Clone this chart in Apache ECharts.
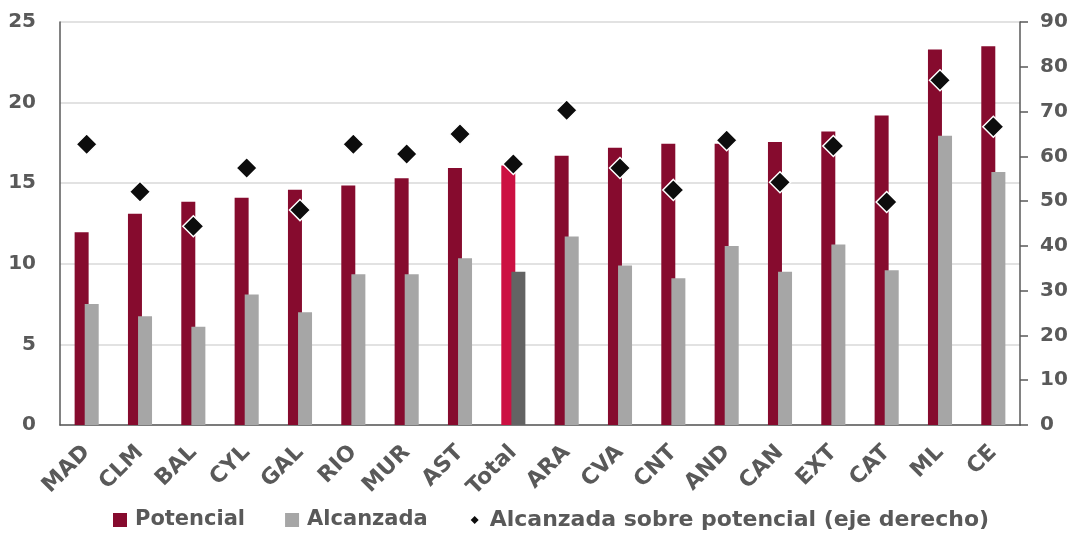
<!DOCTYPE html>
<html><head><meta charset="utf-8">
<script src="https://cdn.jsdelivr.net/npm/echarts@6/dist/echarts.min.js"></script>
<style>html,body{margin:0;padding:0;background:#fff}#c{width:1078px;height:538px}</style>
</head><body><div id="c"></div>
<script>
const categories = ['MAD','CLM','BAL','CYL','GAL','RIO','MUR','AST','Total','ARA','CVA','CNT','AND','CAN','EXT','CAT','ML','CE'];
const potencial = [11.95,13.1,13.85,14.1,14.6,14.85,15.3,15.95,16.1,16.7,17.2,17.45,17.45,17.55,18.2,19.2,23.3,23.5];
const alcanzada = [7.5,6.75,6.1,8.1,7.0,9.35,9.35,10.35,9.5,11.7,9.9,9.1,11.1,9.5,11.2,9.6,17.95,15.7];
const ratio = [62.7,52.1,44.4,57.4,48.0,62.7,60.5,65.0,58.3,70.3,57.4,52.5,63.6,54.2,62.3,49.8,77.0,66.6];
const leftTicks = {min:0,max:25,interval:5};
const rightTicks = {min:0,max:90,interval:10};

const FONT = '"DejaVu Sans", sans-serif';
const TXT = '#595959';
const chart = echarts.init(document.getElementById('c'), null, {renderer:'canvas'});
chart.setOption({
  animation:false,
  textStyle:{fontFamily:FONT},
  grid:{left:60,right:58,top:22,bottom:113,containLabel:false},
  legend:{
    bottom:2,left:108,itemWidth:14,itemHeight:14,itemGap:40,
    textStyle:{fontFamily:FONT,fontSize:21,fontWeight:'bold',color:TXT,padding:[0,0,0,3]},
    data:[
      {name:'Potencial',icon:'rect',itemStyle:{color:'#860B2E'}},
      {name:'Alcanzada',icon:'rect',itemStyle:{color:'#A6A6A6'}},
      {name:'Alcanzada sobre potencial (eje derecho)',icon:'path://M0,0L0.01,0.01M14,14L14.01,14.01M7,3L11,7L7,11L3,7Z',itemStyle:{color:'#0d0d0d',borderWidth:0},
       textStyle:{fontSize:22}}
    ]
  },
  xAxis:{
    type:'category',data:categories,
    axisLine:{lineStyle:{color:'#595959',width:1.5}},
    axisTick:{show:false},
    axisLabel:{rotate:45,interval:0,fontFamily:FONT,fontSize:22,fontWeight:'bold',color:TXT,margin:24}
  },
  yAxis:[
    {type:'value',min:leftTicks.min,max:leftTicks.max,interval:leftTicks.interval,
     axisLine:{show:true,lineStyle:{color:'#595959',width:1.5}},axisTick:{show:false},
     splitLine:{lineStyle:{color:'#d9d9d9',width:1.5}},
     axisLabel:{fontFamily:FONT,fontSize:20,fontWeight:'bold',color:TXT,margin:24}},
    {type:'value',min:rightTicks.min,max:rightTicks.max,interval:rightTicks.interval,position:'right',
     axisLine:{show:true,lineStyle:{color:'#595959',width:1.5}},
     axisTick:{show:true,length:8,lineStyle:{color:'#595959',width:1.5}},
     splitLine:{show:false},
     axisLabel:{fontFamily:FONT,fontSize:20,fontWeight:'bold',color:TXT,margin:20}}
  ],
  series:[
    {name:'Potencial',type:'bar',yAxisIndex:0,barWidth:14,barGap:'-28%',
     itemStyle:{color:'#860B2E'},
     data:potencial.map((v,i)=>categories[i]==='Total'?{value:v,itemStyle:{color:'#CC1042'}}:v)},
    {name:'Alcanzada',type:'bar',yAxisIndex:0,barWidth:14,
     itemStyle:{color:'#A6A6A6'},
     data:alcanzada.map((v,i)=>categories[i]==='Total'?{value:v,itemStyle:{color:'#636363'}}:v)},
    {name:'Alcanzada sobre potencial (eje derecho)',type:'scatter',yAxisIndex:1,
     symbol:'diamond',symbolSize:21,z:5,
     itemStyle:{color:'#0d0d0d',opacity:1,borderColor:'#ffffff',borderWidth:1.5},
     data:ratio}
  ]
});
</script></body></html>
